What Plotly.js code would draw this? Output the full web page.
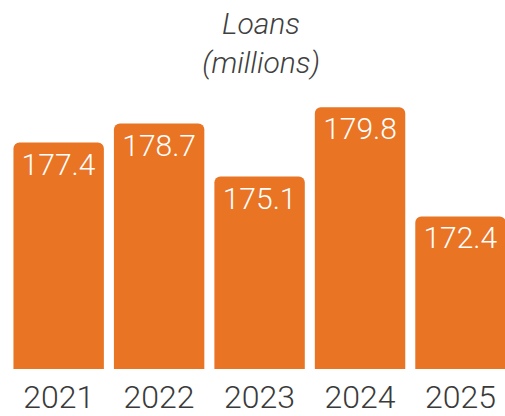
<!DOCTYPE html>
<html>
<head>
<meta charset="utf-8">
<script src="https://cdn.plot.ly/plotly-3.0.1.min.js"></script>
<style>html,body{margin:0;padding:0;background:#fff;}#chart{width:505px;height:416px;}</style>
</head>
<body>
<div id="chart"></div>
<script>
var years = ['2021', '2022', '2023', '2024', '2025'];
var loans = [177.4, 178.7, 175.1, 179.8, 172.4];
var labels = ['177.4', '178.7', '175.1', '179.8', '172.4'];

var numFont = 'Roboto, sans-serif';

var trace = {
  type: 'bar',
  x: years,
  y: loans,
  text: labels,
  textposition: 'inside',
  insidetextanchor: 'end',
  textangle: 0,
  constraintext: 'none',
  insidetextfont: {family: numFont, size: 30, color: '#ffffff', weight: 300},
  marker: {color: '#E87424', cornerradius: 6},
  hoverinfo: 'none'
};

var layout = {
  width: 505,
  height: 416,
  margin: {l: 0, r: 0, t: 80, b: 47, pad: 0},
  paper_bgcolor: '#ffffff',
  plot_bgcolor: '#ffffff',
  bargap: 0.1,
  showlegend: false,
  title: {
    text: 'Loans<br>(millions)',
    font: {family: 'Roboto, sans-serif', size: 30, color: '#404040', style: 'italic', weight: 300},
    x: 0.517,
    xanchor: 'center',
    xref: 'paper',
    y: 0.918,
    yref: 'container',
    yanchor: 'top'
  },
  xaxis: {
    type: 'category',
    range: [-0.584, 4.443],
    showgrid: false,
    zeroline: false,
    showline: false,
    ticks: '',
    ticklabelstandoff: 6,
    tickfont: {family: numFont, size: 32, color: '#3a3a3a', weight: 300},
    fixedrange: true
  },
  yaxis: {
    range: [162.07, 181.64],
    visible: false,
    showgrid: false,
    zeroline: false,
    fixedrange: true
  }
};

Plotly.newPlot('chart', [trace], layout, {displayModeBar: false, staticPlot: true});
</script>
</body>
</html>
